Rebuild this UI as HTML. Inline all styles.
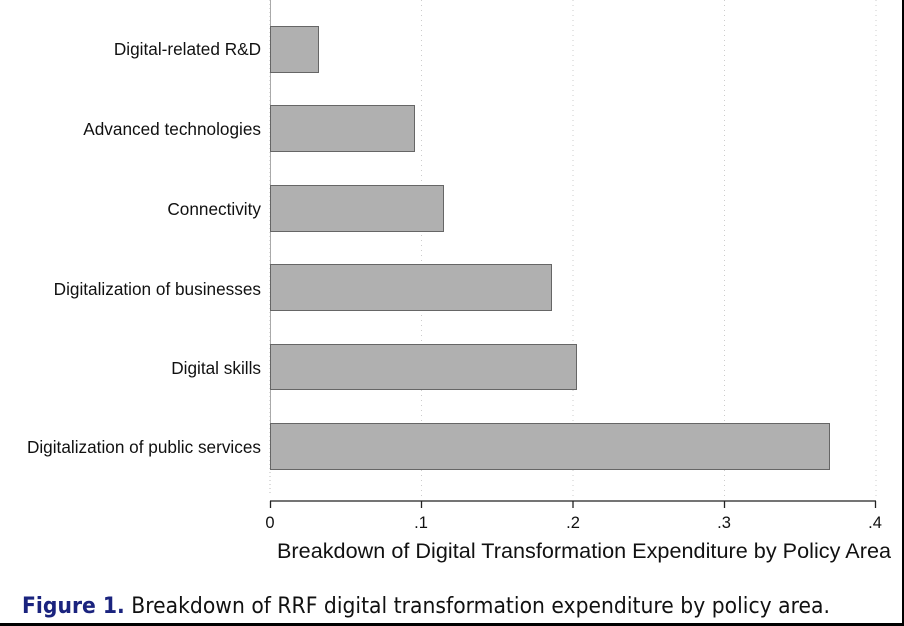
<!DOCTYPE html>
<html><head><style>
body{margin:0;background:#fff;}
</style></head><body>
<svg width="904" height="626" xmlns="http://www.w3.org/2000/svg" style="display:block">
<rect width="904" height="626" fill="#fff"/>
<g stroke="#ccc" stroke-width="1" stroke-dasharray="1,4">
<line x1="421.5" y1="0" x2="421.5" y2="496"/>
<line x1="573" y1="0" x2="573" y2="496"/>
<line x1="724.5" y1="0" x2="724.5" y2="496"/>
<line x1="876" y1="0" x2="876" y2="496"/>
</g>
<line x1="270" y1="0" x2="270" y2="496" stroke="#bbb" stroke-width="1" stroke-dasharray="1,3"/>
<line x1="270.5" y1="0" x2="270.5" y2="430" stroke="#aaa" stroke-width="1"/>
<g fill="#b0b0b0" stroke="#666" stroke-width="1">
<rect x="270.5" y="26.5" width="48" height="46"/>
<rect x="270.5" y="105.5" width="144" height="46"/>
<rect x="270.5" y="185.5" width="173" height="46"/>
<rect x="270.5" y="264.5" width="281" height="46"/>
<rect x="270.5" y="344.5" width="306" height="45"/>
<rect x="270.5" y="423.5" width="559" height="46"/>
</g>
<g font-family="Liberation Sans, sans-serif" font-size="17.2" fill="#111" text-anchor="end">
<text x="261" y="55">Digital-related R&amp;D</text>
<text x="261" y="135">Advanced technologies</text>
<text x="261" y="215">Connectivity</text>
<text x="261" y="295">Digitalization of businesses</text>
<text x="261" y="374">Digital skills</text>
<text x="261" y="453">Digitalization of public services</text>
</g>
<g stroke="#222" stroke-width="1.3">
<line x1="270" y1="501" x2="876" y2="501"/>
<line x1="270.5" y1="501" x2="270.5" y2="508"/>
<line x1="421.5" y1="501" x2="421.5" y2="508"/>
<line x1="573" y1="501" x2="573" y2="508"/>
<line x1="724.5" y1="501" x2="724.5" y2="508"/>
<line x1="875.5" y1="501" x2="875.5" y2="508"/>
</g>
<g font-family="Liberation Sans, sans-serif" font-size="16.5" fill="#111" text-anchor="middle">
<text x="270" y="528">0</text>
<text x="421" y="528">.1</text>
<text x="573" y="528">.2</text>
<text x="724" y="528">.3</text>
<text x="875" y="528">.4</text>
</g>
<text x="584" y="558" font-family="Liberation Sans, sans-serif" font-size="21.6" fill="#111" text-anchor="middle" textLength="614">Breakdown of Digital Transformation Expenditure by Policy Area</text>
<text x="22" y="613" font-family="DejaVu Sans Condensed, Liberation Sans Narrow, Liberation Sans, sans-serif" font-size="22.6" fill="#111" textLength="808"><tspan fill="#1a237e" font-weight="bold">Figure 1.</tspan> Breakdown of RRF digital transformation expenditure by policy area.</text>
<rect x="0" y="623" width="904" height="3" fill="#000"/>
<rect x="902" y="0" width="2" height="626" fill="#000"/>
</svg>
</body></html>
